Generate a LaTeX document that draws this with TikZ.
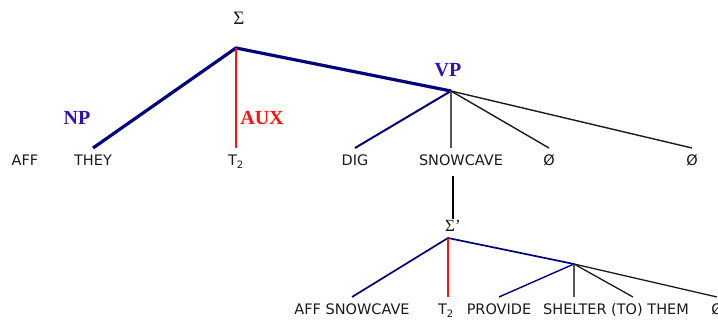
\documentclass[tikz,border=0pt]{standalone}
\usepackage{fontspec}
\setmainfont{Liberation Serif}
\newfontfamily\leaffont{DejaVu Sans}
\usetikzlibrary{positioning}
\definecolor{navy}{HTML}{00007F}
\definecolor{violet}{HTML}{3311B0}
\definecolor{red}{HTML}{FF1010}
\definecolor{grey}{HTML}{555555}
\definecolor{ink}{HTML}{1A1A1A}
\tikzset{
  leaf/.style={font=\leaffont\fontsize{14.5}{17}\selectfont, text=ink, text height=11pt, text depth=3pt, inner xsep=1pt, inner ysep=3pt, outer ysep=4pt},
  cat/.style={font=\bfseries\fontsize{20}{24}\selectfont, text=violet, inner sep=1pt},
  sigma/.style={font=\fontsize{19}{23}\selectfont, text=ink, inner sep=1pt},
  trunk/.style={line width=3.2pt, draw=navy},
  limb/.style={line width=2pt, draw=navy},
  auxline/.style={line width=2pt, draw=red},
  plain/.style={line width=1.4pt, draw=ink},
  greyline/.style={line width=1.7pt, draw=grey},
}
\begin{document}
\begin{tikzpicture}[x=1pt,y=-1pt]
  \useasboundingbox (0,0) rectangle (718,320);

  % upper tree
  \coordinate (s) at (236,48);
  \coordinate (vp) at (451,91);
  \node[sigma] (slabel) at (239,18) {Σ};
  \node[cat] (np) at (77,118) {NP};
  \node[cat,text=red] (aux) at (262,118) {AUX};
  \node[cat] (vplabel) at (448,70) {VP};

  \node[leaf] (aff) at (25,162) {AFF};
  \node[leaf] (they) at (93,162) {THEY};
  \node[leaf] (tense) at (236,162) {T\textsubscript{2}};
  \node[leaf] (dig) at (355,162) {DIG};
  \node[leaf] (snowcave) at (461,162) {SNOWCAVE};
  \node[leaf] (null1) at (549,162) {Ø};
  \node[leaf] (null2) at (692,162) {Ø};

  \draw[trunk] (they.north) -- (s) -- (vp);
  \draw[auxline] (s) -- (tense.north -| s);
  \draw[limb] (vp) -- (dig.north);
  \draw[greyline] (vp) -- (snowcave.north -| vp);
  \draw[plain] (vp) -- (null1.north);
  \draw[plain] (vp) -- (null2.north);

  % embedded clause
  \coordinate (s2) at (448,238);
  \coordinate (vp2) at (574,264);
  \node[sigma,font=\fontsize{17}{20}\selectfont] (s2label) at (453,226) {Σ’};

  \node[leaf] (affsnow) at (352,311) {AFF SNOWCAVE};
  \node[leaf] (tense2) at (446,311) {T\textsubscript{2}};
  \node[leaf] (provide) at (499,311) {PROVIDE};
  \node[leaf] (shelter) at (616,311) {SHELTER (TO) THEM};
  \node[leaf] (null3) at (717,311) {Ø};

  \draw[line width=2.8pt, draw=black] (snowcave.south -| s2label) -- (s2label.north);
  \draw[limb, line width=1.7pt] (affsnow.north) -- (s2) -- (vp2);
  \draw[red, line width=1.2pt] (s2) -- (tense2.north -| s2);
  \draw[limb, line width=1.4pt] (vp2) -- (provide.north);
  \draw[greyline, line width=1.4pt] (vp2) -- (shelter.north -| vp2);
  \draw[plain, line width=1.3pt] (vp2) -- ([xshift=17pt]shelter.north);
  \draw[plain, line width=1.3pt] (vp2) -- (null3.north);
\end{tikzpicture}
\end{document}
